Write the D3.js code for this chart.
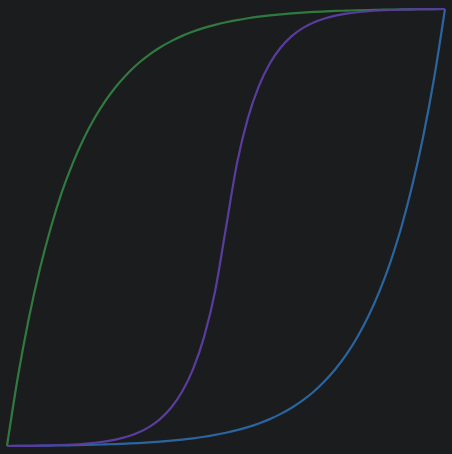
<!DOCTYPE html>
<html>
<head>
<meta charset="utf-8">
<script src="https://cdn.jsdelivr.net/npm/d3@7"></script>
<style>
  html, body { margin: 0; padding: 0; background: #1b1c1e; }
  svg { display: block; }
</style>
</head>
<body>
<svg id="chart" width="452" height="454"></svg>
<script>
// progress samples, 0 .. 1 in steps of 0.025
var progress = d3.range(41).map(function(i) { return i / 40; });

// values at each progress sample
var outValues = [0, 0.1591, 0.2931, 0.4052, 0.4995, 0.5802, 0.6469, 0.7033, 0.7505, 0.7905,
  0.8239, 0.8520, 0.8758, 0.8957, 0.9125, 0.9265, 0.9385, 0.9484, 0.9568, 0.9638,
  0.9697, 0.9747, 0.9789, 0.9824, 0.9853, 0.9878, 0.9899, 0.9917, 0.9932, 0.9944,
  0.9955, 0.9963, 0.9971, 0.9977, 0.9982, 0.9987, 0.9990, 0.9993, 0.9996, 0.9998, 1];

var inValues = [0, 0.0002, 0.0004, 0.0007, 0.0010, 0.0013, 0.0018, 0.0023, 0.0029, 0.0037,
  0.0045, 0.0056, 0.0068, 0.0083, 0.0101, 0.0122, 0.0147, 0.0176, 0.0211, 0.0253,
  0.0303, 0.0362, 0.0432, 0.0516, 0.0615, 0.0735, 0.0875, 0.1043, 0.1242, 0.1480,
  0.1761, 0.2095, 0.2495, 0.2967, 0.3531, 0.4198, 0.4995, 0.5948, 0.7069, 0.8409, 1];

var inOutValues = [0, 0.0002, 0.0005, 0.0009, 0.0015, 0.0023, 0.0034, 0.0051, 0.0074, 0.0106,
  0.0152, 0.0216, 0.0308, 0.0438, 0.0621, 0.0881, 0.1248, 0.1766, 0.2498, 0.3535,
  0.5000, 0.6465, 0.7502, 0.8234, 0.8752, 0.9119, 0.9379, 0.9562, 0.9692, 0.9784,
  0.9848, 0.9894, 0.9926, 0.9949, 0.9966, 0.9977, 0.9985, 0.9991, 0.9995, 0.9998, 1];

var seriesNames = ["out", "in", "inOut"];
var seriesColors = ["#2f7b3f", "#2b65a0", "#5a3c9e"];

var svg = d3.select("#chart");

var xScale = d3.scaleLinear().domain([0, 1]).range([7, 445]);
var yScale = d3.scaleLinear().domain([0, 1]).range([446, 9]);

var line = d3.line()
  .x(function(d) { return xScale(d[0]); })
  .y(function(d) { return yScale(d[1]); })
  .curve(d3.curveMonotoneX);

var series = [outValues, inValues, inOutValues].map(function(vals, k) {
  return {
    name: seriesNames[k],
    color: seriesColors[k],
    points: progress.map(function(p, i) { return [p, vals[i]]; })
  };
});

svg.selectAll(".ease")
  .data(series)
  .enter().append("path")
  .attr("class", "ease")
  .attr("fill", "none")
  .attr("stroke", function(d) { return d.color; })
  .attr("stroke-width", 2.2)
  .attr("stroke-linejoin", "round")
  .attr("d", function(d) { return line(d.points); });
</script>
</body>
</html>
